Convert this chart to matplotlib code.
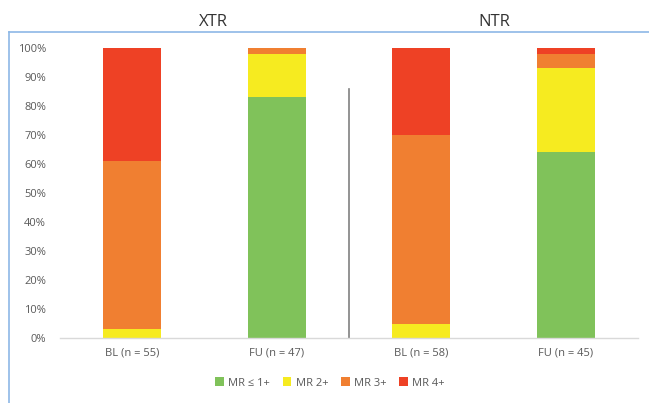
import matplotlib
matplotlib.use("Agg")
import matplotlib.pyplot as plt
from matplotlib.lines import Line2D
from matplotlib.patches import Patch
import numpy as np

categories = ["BL (n = 55)", "FU (n = 47)", "BL (n = 58)", "FU (n = 45)"]
series_names = ["MR \u2264 1+", "MR 2+", "MR 3+", "MR 4+"]
mr1 = [0, 83, 0, 64]
mr2 = [3, 15, 5, 29]
mr3 = [58, 2, 65, 5]
mr4 = [39, 0, 30, 2]
group_titles = ["XTR", "NTR"]
colors = ["#80C25A", "#F6EB20", "#F07F31", "#EE4125"]

plt.rcParams['font.family'] = ['Open Sans', 'DejaVu Sans']
fig = plt.figure(figsize=(6.49, 4.03), dpi=100)
ax = fig.add_axes([60/649, 65/403, 578/649, 290/403])

x = np.arange(len(categories))
bottom = np.zeros(len(categories))
for vals, c, name in zip([mr1, mr2, mr3, mr4], colors, series_names):
    ax.bar(x, vals, width=0.4, bottom=bottom, color=c, label=name, linewidth=0)
    bottom += np.array(vals)

ax.set_xlim(-0.5, 3.5)
ax.set_ylim(0, 100)
ax.set_yticks(range(0, 101, 10))
ax.set_yticklabels([f"{v}%" for v in range(0, 101, 10)])
ax.set_xticks(x)
ax.set_xticklabels(categories)
ax.tick_params(axis='both', length=0, labelsize=8, colors="#595959")
ax.tick_params(axis='x', pad=7)
ax.tick_params(axis='y', pad=10)
for s in ["top", "right", "left"]:
    ax.spines[s].set_visible(False)
ax.spines["bottom"].set_color("#D9D9D9")
ax.spines["bottom"].set_linewidth(1)

ax.plot([1.5, 1.5], [0, 86], color="#808080", linewidth=1.2, clip_on=False)

fig.text(213/649, 1 - 22/403, group_titles[0], ha="center", va="center", fontsize=12, color="#333333")
fig.text(494/649, 1 - 22/403, group_titles[1], ha="center", va="center", fontsize=12, color="#333333")

# border box (left and top edges)
fig.add_artist(Line2D([9/649, 9/649], [0, 1 - 32/403], color="#8DB8E6", linewidth=1.2))
fig.add_artist(Line2D([9/649, 1], [1 - 32/403, 1 - 32/403], color="#8DB8E6", linewidth=1.2))

handles = [Patch(facecolor=c, edgecolor="none") for c in colors]
fig.legend(handles, series_names, loc="center", bbox_to_anchor=(330/649, 1 - 383/403),
           ncol=4, frameon=False, fontsize=8, handlelength=0.8, handleheight=0.8,
           handletextpad=0.4, columnspacing=1.1, labelcolor="#595959")

fig.savefig("out.png", dpi=100)
